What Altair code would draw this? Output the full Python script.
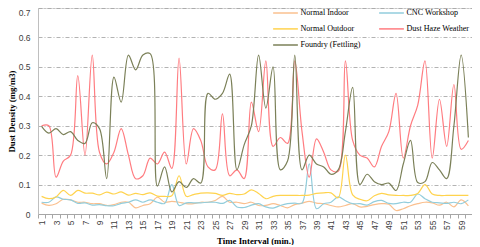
import altair as alt
import pandas as pd

intervals = list(range(1, 61))

normal_indoor = [0.037, 0.029, 0.035, 0.050, 0.048, 0.040, 0.040, 0.035, 0.035, 0.029,
                 0.032, 0.040, 0.040, 0.021, 0.029, 0.035, 0.057, 0.040, 0.043, 0.040,
                 0.035, 0.035, 0.040, 0.040, 0.046, 0.060, 0.040, 0.040, 0.035, 0.040,
                 0.029, 0.029, 0.035, 0.029, 0.021, 0.032, 0.037, 0.043, 0.037, 0.035,
                 0.029, 0.024, 0.029, 0.035, 0.024, 0.026, 0.032, 0.035, 0.033, 0.012,
                 0.018, 0.028, 0.035, 0.040, 0.038, 0.030, 0.040, 0.024, 0.048, 0.028]

cnc_workshop = [0.040, 0.040, 0.058, 0.050, 0.048, 0.036, 0.038, 0.030, 0.032, 0.028,
                0.028, 0.036, 0.040, 0.048, 0.040, 0.048, 0.040, 0.036, 0.100, 0.029,
                0.038, 0.038, 0.038, 0.040, 0.040, 0.036, 0.046, 0.024, 0.022, 0.030,
                0.035, 0.024, 0.020, 0.029, 0.035, 0.037, 0.037, 0.170, 0.018, 0.035,
                0.040, 0.058, 0.045, 0.035, 0.035, 0.030, 0.042, 0.046, 0.036, 0.035,
                0.040, 0.040, 0.068, 0.052, 0.040, 0.038, 0.036, 0.040, 0.035, 0.048]

normal_outdoor = [0.060, 0.052, 0.058, 0.080, 0.063, 0.080, 0.071, 0.071, 0.065, 0.074,
                  0.068, 0.075, 0.064, 0.070, 0.066, 0.072, 0.061, 0.060, 0.062, 0.130,
                  0.060, 0.066, 0.071, 0.072, 0.070, 0.063, 0.070, 0.066, 0.068, 0.082,
                  0.070, 0.052, 0.060, 0.063, 0.063, 0.063, 0.063, 0.064, 0.070, 0.072,
                  0.072, 0.055, 0.200, 0.065, 0.050, 0.045, 0.062, 0.070, 0.065, 0.063,
                  0.063, 0.063, 0.070, 0.100, 0.068, 0.063, 0.063, 0.063, 0.063, 0.063]

dust_haze = [0.30, 0.30, 0.125, 0.18, 0.20, 0.47, 0.20, 0.54, 0.21, 0.17,
             0.21, 0.29, 0.20, 0.12, 0.13, 0.19, 0.17, 0.21, 0.155, 0.53,
             0.17, 0.29, 0.25, 0.16, 0.15, 0.34, 0.13, 0.15, 0.12, 0.38,
             0.28, 0.52, 0.23, 0.26, 0.24, 0.52, 0.28, 0.125, 0.255, 0.21,
             0.15, 0.145, 0.52, 0.25, 0.20, 0.19, 0.16, 0.23, 0.28, 0.41,
             0.19, 0.30, 0.37, 0.52, 0.19, 0.39, 0.23, 0.44, 0.22, 0.25]

foundry = [0.298, 0.275, 0.29, 0.27, 0.28, 0.25, 0.24, 0.31, 0.29, 0.12,
           0.465, 0.38, 0.54, 0.49, 0.54, 0.545, 0.095, 0.16, 0.075, 0.11,
           0.09, 0.12, 0.105, 0.41, 0.39, 0.41, 0.475, 0.15, 0.235, 0.30,
           0.54, 0.36, 0.50, 0.15, 0.18, 0.54, 0.15, 0.20, 0.17, 0.16,
           0.135, 0.15, 0.28, 0.43, 0.10, 0.135, 0.11, 0.10, 0.105, 0.08,
           0.17, 0.25, 0.107, 0.11, 0.175, 0.15, 0.12, 0.30, 0.54, 0.26]

series_names = ["Normal Indoor", "CNC Workshop", "Normal Outdoor",
                "Dust Haze Weather", "Foundry (Fettling)"]
series_colors = ["#FAC08F", "#92CDDC", "#FFD34E", "#FF7C80", "#7B8058"]
series_values = [normal_indoor, cnc_workshop, normal_outdoor, dust_haze, foundry]

y_ticks = [0, 0.1, 0.2, 0.3, 0.4, 0.5, 0.6, 0.7]

rows = []
for k, (name, vals) in enumerate(zip(series_names, series_values)):
    for t, v in zip(intervals, vals):
        rows.append({"t": t, "v": v, "series": name, "k": k})
df = pd.DataFrame(rows)

chart = alt.Chart(df).mark_line(
    interpolate="catmull-rom", strokeWidth=1.2
).encode(
    x=alt.X(
        "t:O",
        bandPosition=0.5,
        scale=alt.Scale(type="band", paddingInner=0, paddingOuter=0),
        axis=alt.Axis(
            title="Time Interval (min.)",
            labelExpr="datum.value % 2 == 1 ? datum.label : ''",
            labelAngle=-90,
            labelOverlap=False,
            labelFont="Liberation Sans",
            labelFontSize=8.5,
            labelColor="#404040",
            labelPadding=2,
            tickBand="extent",
            ticks=True,
            tickSize=4,
            tickColor="#A6A6A6",
            domainColor="#A6A6A6",
            grid=False,
            titleFont="Liberation Serif",
            titleFontWeight="bold",
            titleFontSize=8.8,
            titleColor="#000000",
            titleBaseline="alphabetic",
            titleY=29,
        ),
    ),
    y=alt.Y(
        "v:Q",
        scale=alt.Scale(domain=[0, 0.7], nice=False, zero=True),
        axis=alt.Axis(
            title="Dust Density (mg/m3)",
            values=y_ticks,
            format=".1~f",
            labelFont="Liberation Sans",
            labelFontSize=8.5,
            labelColor="#404040",
            labelPadding=8,
            labelBaseline=alt.condition("datum.value >= 0.69", alt.value("top"), alt.value("middle")),
            ticks=False,
            domainColor="#BFBFBF",
            grid=True,
            gridColor="#A0A0A0",
            gridDash=[4, 2, 1, 2],
            gridWidth=0.8,
            titleFont="Liberation Serif",
            titleFontWeight="bold",
            titleFontSize=8.8,
            titleColor="#000000",
            titleBaseline="alphabetic",
            titleX=-24,
            titleY=103,
        ),
    ),
    color=alt.Color(
        "series:N",
        scale=alt.Scale(domain=series_names, range=series_colors),
        legend=alt.Legend(
            orient="none",
            direction="horizontal",
            legendX=239,
            legendY=-3.7,
            columns=2,
            title=None,
            symbolType="M-1.65,0H1.65",
            symbolSize=225,
            symbolStrokeWidth=1.5,
            labelFont="Liberation Serif",
            labelFontSize=8.1,
            labelColor="#000000",
            labelOffset=6.4,
            columnPadding=15,
            rowPadding=3.1,
            padding=0,
        ),
    ),
    detail="k:N",
).properties(
    width=434,
    height=206,
    autosize=alt.AutoSizeParams(type="none"),
    padding={"left": 30, "top": 0, "right": 0, "bottom": 31},
).configure_view(stroke=None).configure(background="white")

chart.save("out.html", embed_options={"renderer": "svg", "actions": False})
